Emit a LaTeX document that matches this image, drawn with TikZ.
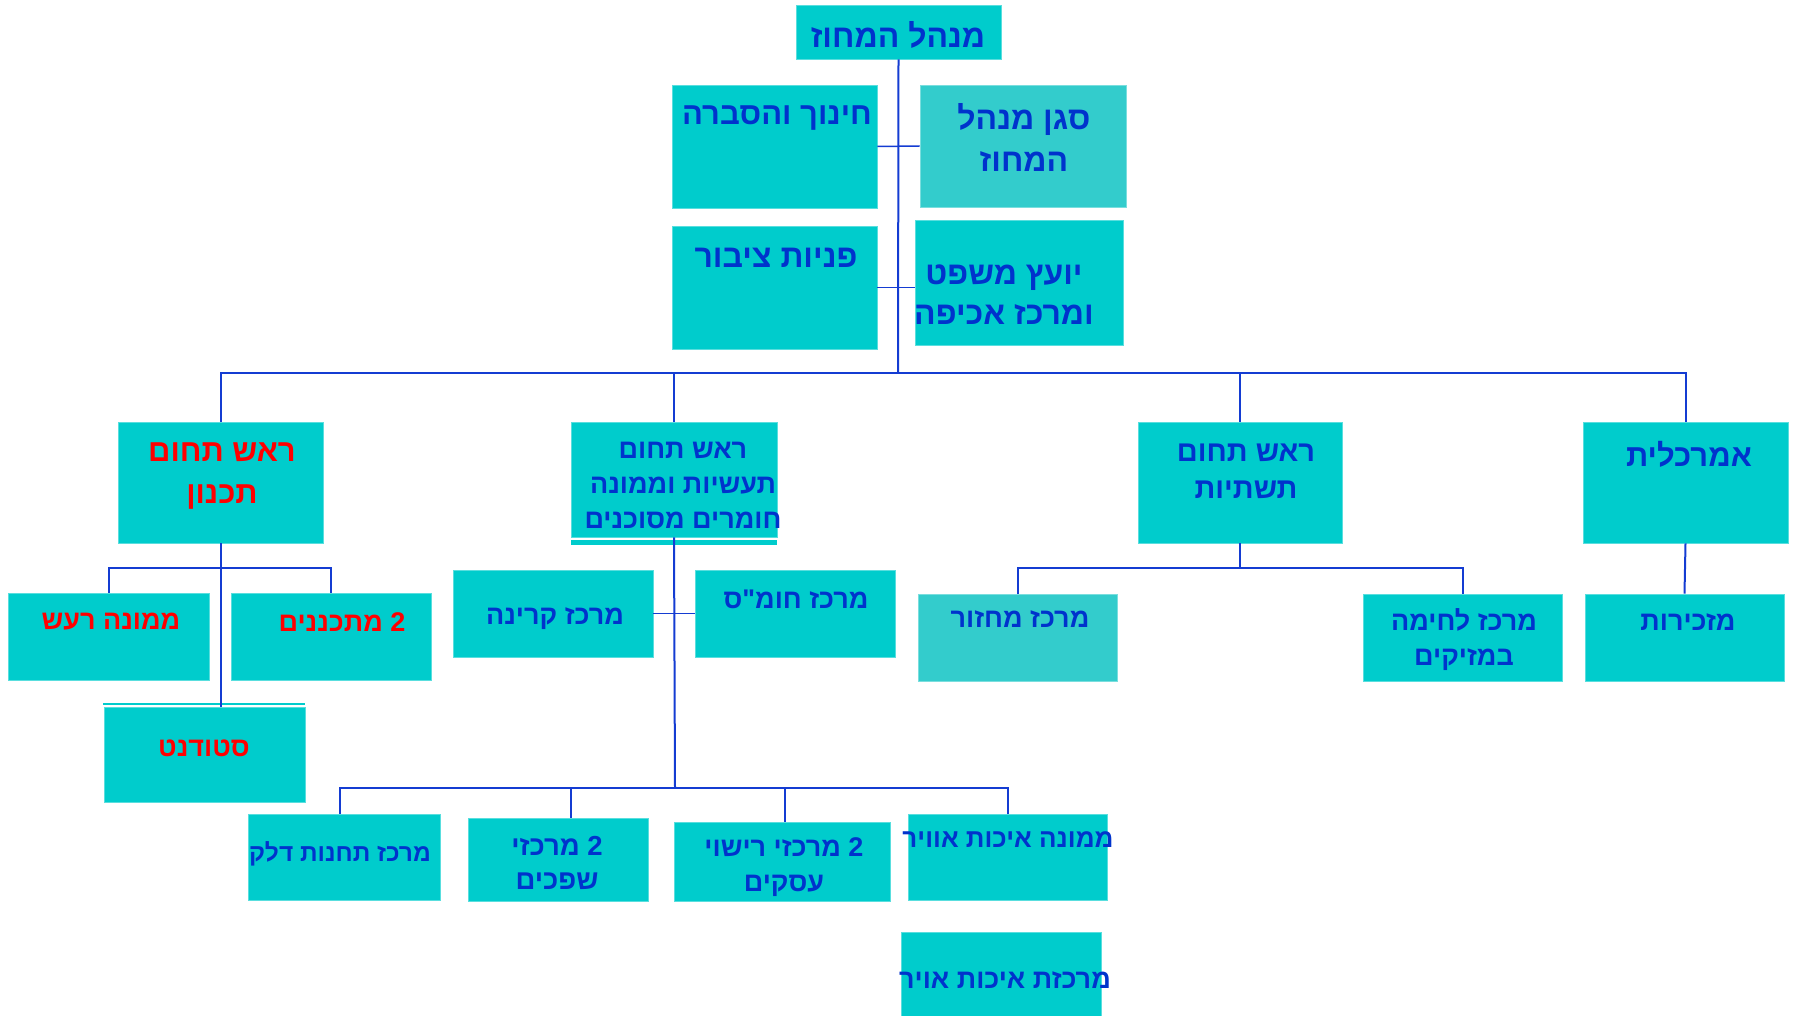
\documentclass[tikz,border=0pt]{standalone}
\usepackage{fontspec}
\newfontfamily\hebfont[Script=Hebrew]{Liberation Sans}
\TeXXeTstate=1
\definecolor{boxcol}{RGB}{0,204,204}
\definecolor{litecol}{RGB}{51,204,204}
\definecolor{textblue}{RGB}{0,51,204}
\definecolor{linecol}{RGB}{20,60,210}
\newcommand{\rl}[1]{\beginR #1\endR}
\tikzset{
    box/.style={fill=boxcol, draw=boxcol!65!white, line width=0.8pt, inner sep=0pt},
    litebox/.style={box, fill=litecol, draw=litecol!65!white},
    txt/.style={text=textblue, align=center, inner sep=0pt},
    fbig/.style={txt, font=\hebfont\bfseries\fontsize{31pt}{41pt}\selectfont},
    fmid/.style={txt, font=\hebfont\bfseries\fontsize{27pt}{35pt}\selectfont},
    fsmall/.style={txt, font=\hebfont\bfseries\fontsize{24.5pt}{33pt}\selectfont},
    plan/.style={text=red},
    conn/.style={draw=linecol, line width=2pt},
    tick/.style={draw=linecol, line width=1.5pt}
}
\begin{document}
\begin{tikzpicture}[x=1pt, y=-1pt]
    \useasboundingbox (0,0) rectangle (1797,1016);

    % management
    \node[box, minimum width=205pt, minimum height=54pt] (top) at (898.5,32) {};
    \node[box, minimum width=205pt, minimum height=123pt] (hinuch) at (774.5,146.5) {};
    \node[litebox, minimum width=206pt, minimum height=122pt] (segan) at (1023,146) {};
    \node[box, minimum width=205pt, minimum height=123pt] (pniyot) at (774.5,287.5) {};
    \node[box, minimum width=208pt, minimum height=125pt] (yoetz) at (1019,282.5) {};

    \node[fbig, font=\hebfont\bfseries\fontsize{32pt}{40pt}\selectfont] (top-t) at (898,35) {\rl{מנהל המחוז}};
    \node[fbig] (hinuch-t) at (777,118) {\rl{חינוך והסברה}};
    \node[fbig, font=\hebfont\bfseries\fontsize{32pt}{42pt}\selectfont] (segan-t) at (1024,137) {\rl{סגן מנהל}\\\rl{המחוז}};
    \node[fbig, font=\hebfont\bfseries\fontsize{32pt}{40pt}\selectfont] (pniyot-t) at (776,258) {\rl{פניות ציבור}};
    \node[fbig, font=\hebfont\bfseries\fontsize{32pt}{40pt}\selectfont] (yoetz-t) at (1004,295) {\rl{יועץ משפט}\\\rl{ומרכז אכיפה}};

    \coordinate (bus) at (898,373);
    \draw[conn] (top.south) -- (bus);
    \draw[tick] (hinuch.east) -- (segan.west);
    \draw[tick] (pniyot.east) -- (pniyot.east -| yoetz.west);

    % heads of fields
    \node[box, minimum width=205pt, minimum height=121pt] (tichnun) at (220.5,482.5) {};
    \node[box, minimum width=206pt, minimum height=115pt] (taasiyot) at (674,479.5) {};
    \fill[boxcol] (571,539.5) rectangle (777,545);
    \node[box, minimum width=204pt, minimum height=121pt] (tashtiyot) at (1240,482.5) {};
    \node[box, minimum width=205pt, minimum height=121pt] (amarcalit) at (1685.5,482.5) {};

    \node[fbig, plan, font=\hebfont\bfseries\fontsize{31pt}{42pt}\selectfont] (tichnun-t) at (222,476) {\rl{ראש תחום}\\\rl{תכנון}};
    \node[fmid] (taasiyot-t) at (683,485) {\rl{ראש תחום}\\\rl{תעשיות וממונה}\\\rl{חומרים מסוכנים}};
    \node[fbig, font=\hebfont\bfseries\fontsize{29pt}{37pt}\selectfont] (tashtiyot-t) at (1246,471) {\rl{ראש תחום}\\\rl{תשתיות}};
    \node[fbig] (amarcalit-t) at (1689,454) {\rl{אמרכלית}};

    \draw[conn] (tichnun.north) -- (tichnun.north |- bus) -- (amarcalit.north |- bus) -- (amarcalit.north);
    \draw[conn] (taasiyot.north) -- (taasiyot.north |- bus);
    \draw[conn] (tashtiyot.north) -- (tashtiyot.north |- bus);

    % planning
    \node[box, minimum width=201pt, minimum height=87pt] (raash) at (108.5,636.5) {};
    \node[box, minimum width=200pt, minimum height=87pt] (metachnenim) at (331,636.5) {};
    \node[box, minimum width=201pt, minimum height=95pt] (student) at (204.5,754.5) {};
    \fill[boxcol] (103,702.5) rectangle (305,705);

    \node[fmid, plan] (raash-t) at (111,622) {\rl{ממונה רעש}};
    \node[fmid, plan] (metachnenim-t) at (342,622) {\rl{2 מתכננים}};
    \node[fmid, plan] (student-t) at (204,748) {\rl{סטודנט}};

    \coordinate (tbus) at (220,568);
    \draw[conn] (tichnun.south) -- (tichnun.south |- student.north);
    \draw[conn] (raash.north) -- (raash.north |- tbus) -- (metachnenim.north |- tbus) -- (metachnenim.north);

    % industries
    \node[box, minimum width=200pt, minimum height=87pt] (karina) at (553,613.5) {};
    \node[box, minimum width=200pt, minimum height=87pt] (homas) at (795,613.5) {};
    \node[box, minimum width=192pt, minimum height=86pt] (delek) at (344,857) {};
    \node[box, minimum width=180pt, minimum height=83pt] (shfachim) at (558,859.5) {};
    \node[box, minimum width=216pt, minimum height=79pt] (rishui) at (782,861.5) {};
    \node[box, minimum width=199pt, minimum height=86pt] (avir) at (1007.5,857) {};
    \node[box, minimum width=200pt, minimum height=86pt] (merakezet) at (1001,975) {};

    \node[fmid] (karina-t) at (555,619) {\rl{מרכז קרינה}};
    \node[fmid] (homas-t) at (796,599) {\rl{מרכז חומ"ס}};
    \node[fsmall] (delek-t) at (340,854) {\rl{מרכז תחנות דלק}};
    \node[fmid, font=\hebfont\bfseries\fontsize{27.5pt}{34pt}\selectfont] (shfachim-t) at (557,863) {\rl{2 מרכזי}\\\rl{שפכים}};
    \node[fmid] (rishui-t) at (784,867) {\rl{2 מרכזי רישוי}\\\rl{עסקים}};
    \node[fsmall, font=\hebfont\bfseries\fontsize{26pt}{33pt}\selectfont] (avir-t) at (1008,840) {\rl{ממונה איכות אוויר}};
    \node[fsmall, font=\hebfont\bfseries\fontsize{27pt}{33pt}\selectfont] (merakezet-t) at (1005,980) {\rl{מרכזת איכות אויר}};

    \coordinate (lbus) at (675,788);
    \draw[conn] (taasiyot.south) -- (lbus);
    \draw[tick] (karina.east) -- (homas.west);
    \draw[conn] ([xshift=-4pt]delek.north) -- ([xshift=-4pt]delek.north |- lbus) -- (avir.north |- lbus) -- (avir.north);
    \draw[conn] ([xshift=13pt]shfachim.north) -- ([xshift=13pt]shfachim.north |- lbus);
    \draw[conn] ([xshift=3pt]rishui.north) -- ([xshift=3pt]rishui.north |- lbus);

    % infrastructure and administration
    \node[litebox, minimum width=199pt, minimum height=87pt] (machzor) at (1017.5,637.5) {};
    \node[box, minimum width=199pt, minimum height=87pt] (lechima) at (1462.5,637.5) {};
    \node[box, minimum width=199pt, minimum height=87pt] (mazkirut) at (1684.5,637.5) {};

    \node[fmid] (machzor-t) at (1020,619) {\rl{מרכז מחזור}};
    \node[fmid] (lechima-t) at (1464,640) {\rl{מרכז לחימה}\\\rl{במזיקים}};
    \node[fmid] (mazkirut-t) at (1688,622) {\rl{מזכירות}};

    \coordinate (sbus) at (1240,568);
    \draw[conn] (tashtiyot.south) -- (sbus);
    \draw[conn] (machzor.north) -- (machzor.north |- sbus) -- (lechima.north |- sbus) -- (lechima.north);
    \draw[conn] (amarcalit.south) -- (mazkirut.north);
\end{tikzpicture}
\end{document}
